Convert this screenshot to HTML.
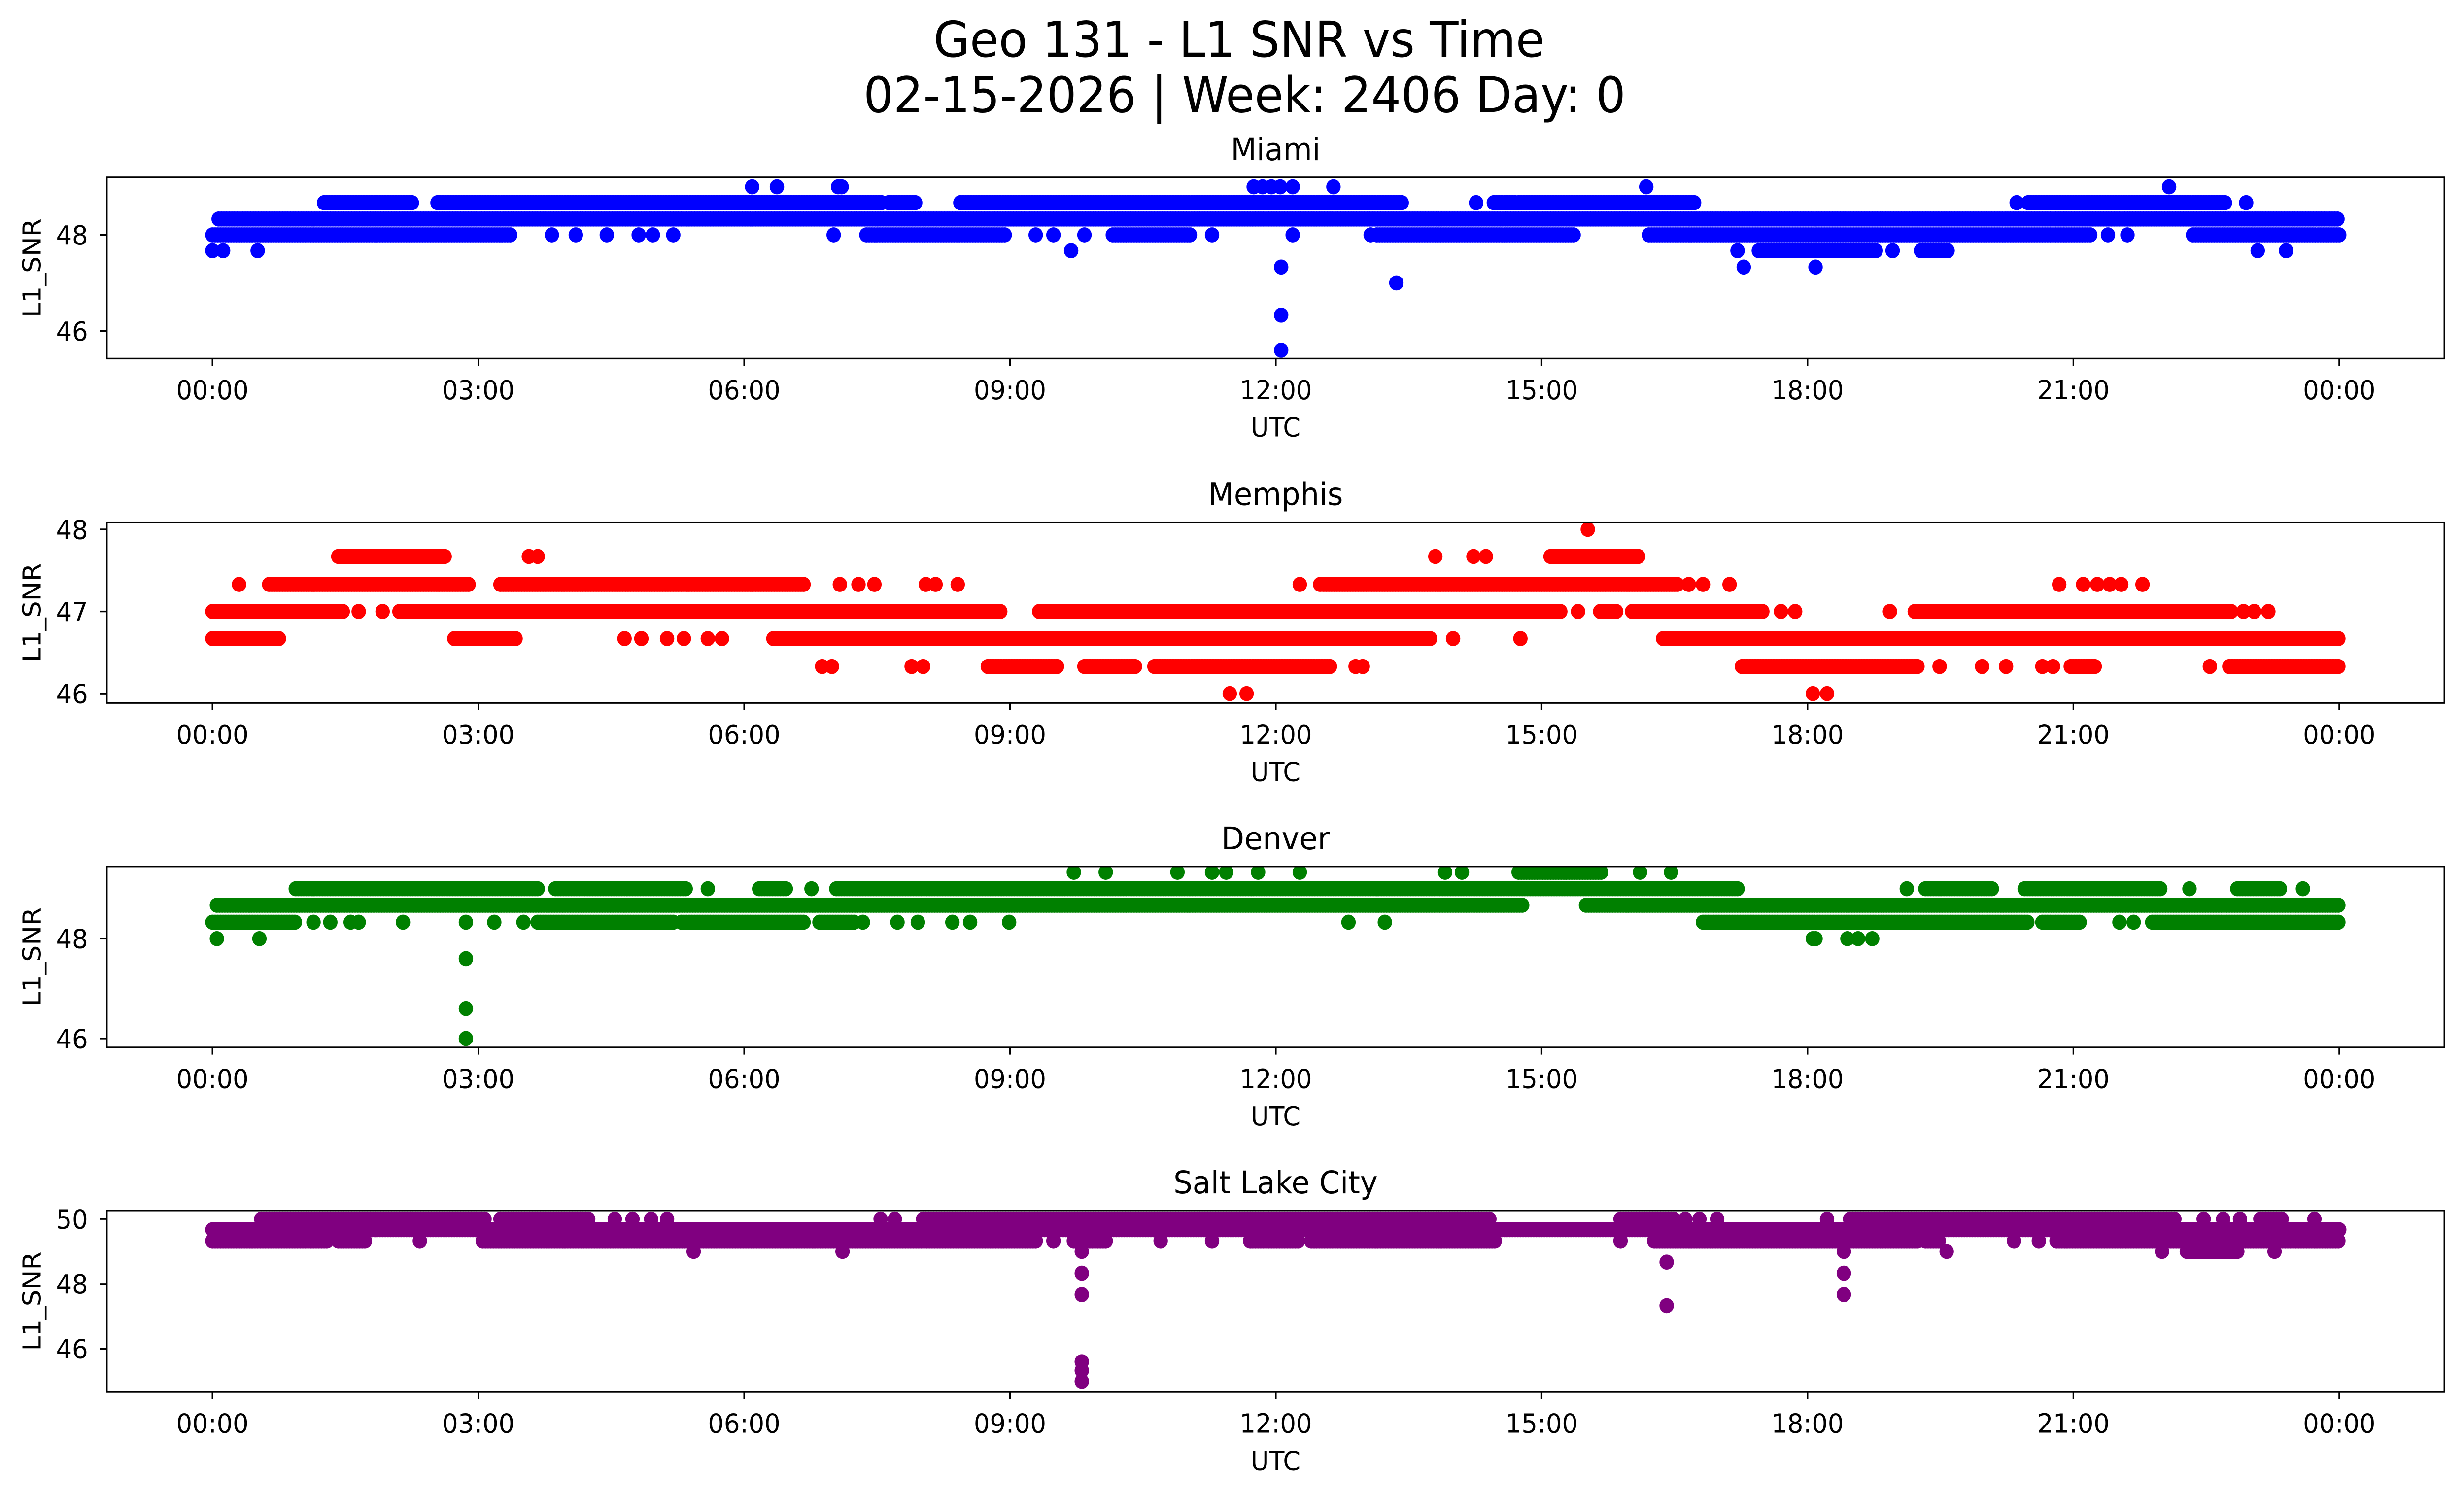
<!DOCTYPE html>
<html><head><meta charset="utf-8"><title>Geo 131 - L1 SNR vs Time</title>
<style>html,body{margin:0;padding:0;background:#fff;overflow:hidden;width:100%;height:100%;}svg{display:block;position:absolute;left:0;top:0;width:100vw;height:100vh;}text{font-family:"DejaVu Sans","Liberation Sans",sans-serif;fill:#000;}</style>
</head><body>
<svg id="fig" xmlns="http://www.w3.org/2000/svg" viewBox="0 0 1568 910.2" preserveAspectRatio="none">
<rect x="0" y="0" width="1568" height="910.2" fill="#fff"/>
<text x="788.5" y="34.5" font-size="30" text-anchor="middle" textLength="389" lengthAdjust="spacingAndGlyphs">Geo 131 - L1 SNR vs Time</text>
<text x="792" y="68.3" font-size="30" text-anchor="middle" textLength="485" lengthAdjust="spacingAndGlyphs">02-15-2026 | Week: 2406 Day: 0</text>
</svg>
<script>
// ---------- data (hours UTC, L1 SNR) ----------
const xTickLabels = ["00:00","03:00","06:00","09:00","12:00","15:00","18:00","21:00","00:00"];
const xTickHours = [0,3,6,9,12,15,18,21,24];

const miamiYTicks = [46,48];
const miamiBands = [[0.07,24,48.33],[1.26,2.27,48.67],[2.54,7.56,48.67],[7.63,7.93,48.67],[8.44,13.43,48.67],[14.46,14.71,48.67],[14.74,16.73,48.67],[20.49,22.72,48.67],
 [0,3.37,48],[7.38,8.96,48],[10.16,11.05,48],[13.14,15.38,48],[16.21,21.2,48],[22.35,24,48],
 [17.45,18.77,47.67],[19.28,19.6,47.67]];
const miamiPoints = [[3.83,48],[4.1,48],[4.45,48],[4.81,48],[4.97,48],[5.2,48],[7.01,48],[9.29,48],[9.49,48],[9.84,48],[11.28,48],[12.19,48],[13.07,48],[21.39,48],[21.61,48],
 [14.26,48.67],[20.36,48.67],[22.95,48.67],
 [6.09,49],[6.37,49],[7.06,49],[7.1,49],[11.75,49],[11.85,49],[11.95,49],[12.05,49],[12.19,49],[12.65,49],[16.18,49],[22.08,49],
 [0,47.67],[0.12,47.67],[0.51,47.67],[9.69,47.67],[17.21,47.67],[18.96,47.67],[23.08,47.67],[23.4,47.67],
 [12.06,47.33],[17.28,47.33],[18.09,47.33],[13.36,47],[12.06,46.33],[12.06,45.6]];

const memphisYTicks = [46,47,48];
const memphisBands = [[1.42,2.63,47.67],[15.1,16.11,47.67],
 [0.64,2.89,47.33],[3.25,6.69,47.33],[12.54,16.53,47.33],
 [0,1.49,47],[2.11,8.9,47],[9.33,15.22,47],[15.66,15.86,47],[16.02,17.49,47],[19.21,22.79,47],
 [0,0.75,46.67],[2.73,3.44,46.67],[6.33,13.75,46.67],[16.37,24,46.67],
 [8.75,9.53,46.33],[9.84,10.43,46.33],[10.63,12.63,46.33],[17.26,19.25,46.33],[20.97,21.25,46.33],[22.76,24,46.33]];
const memphisPoints = [[15.52,48],[3.57,47.67],[3.67,47.67],[13.8,47.67],[14.23,47.67],[14.37,47.67],
 [0.3,47.33],[7.08,47.33],[7.29,47.33],[7.47,47.33],[8.05,47.33],[8.16,47.33],[8.41,47.33],[12.27,47.33],[12.5,47.33],[16.66,47.33],[16.82,47.33],[17.12,47.33],
 [20.84,47.33],[21.11,47.33],[21.27,47.33],[21.41,47.33],[21.54,47.33],[21.78,47.33],
 [1.65,47],[1.92,47],[15.41,47],[17.7,47],[17.86,47],[18.93,47],[22.92,47],[23.04,47],[23.2,47],
 [4.65,46.67],[4.84,46.67],[5.13,46.67],[5.32,46.67],[5.59,46.67],[5.75,46.67],[14,46.67],[14.76,46.67],
 [6.88,46.33],[6.99,46.33],[7.89,46.33],[8.02,46.33],[12.9,46.33],[12.98,46.33],[19.49,46.33],[19.97,46.33],[20.24,46.33],[20.65,46.33],[20.77,46.33],[22.54,46.33],
 [11.48,46],[11.67,46],[18.06,46],[18.22,46]];

const denverYTicks = [46,48];
const denverBands = [[14.74,15.69,49.33],
 [0.94,3.67,49],[3.87,5.36,49],[6.17,6.49,49],[7.04,17.22,49],[19.33,20.08,49],[20.45,22,49],[22.85,23.33,49],
 [0.05,14.78,48.67],[15.5,24,48.67],
 [0,0.94,48.33],[3.67,5.2,48.33],[5.29,6.69,48.33],[6.85,7.24,48.33],[16.82,20.49,48.33],[20.65,21.09,48.33],[21.89,24,48.33]];
const denverPoints = [[9.72,49.33],[10.08,49.33],[10.89,49.33],[11.28,49.33],[11.44,49.33],[11.8,49.33],[12.27,49.33],[13.91,49.33],[14.1,49.33],[16.11,49.33],[16.46,49.33],
 [5.59,49],[6.76,49],[19.12,49],[22.31,49],[23.59,49],
 [1.14,48.33],[1.33,48.33],[1.56,48.33],[1.65,48.33],[2.15,48.33],[2.86,48.33],[3.18,48.33],[3.51,48.33],[7.34,48.33],[7.73,48.33],[7.96,48.33],[8.35,48.33],[8.55,48.33],[8.99,48.33],[12.82,48.33],[13.23,48.33],[21.52,48.33],[21.68,48.33],
 [0.05,48],[0.53,48],[18.06,48],[18.09,48],[18.45,48],[18.57,48],[18.73,48],
 [2.86,47.6],[2.86,46.6],[2.86,46]];

const slcYTicks = [46,48,50];
const slcBands = [[0.55,3.09,50],[3.25,4.26,50],[8.02,14.42,50],[15.89,16.5,50],[18.48,22.15,50],[23.11,23.36,50],
 [0,24,49.67],
 [0,1.29,49.33],[1.42,1.72,49.33],[3.05,9.29,49.33],[9.72,10.08,49.33],[11.71,12.27,49.33],[12.4,14.49,49.33],[16.27,19.25,49.33],[19.33,19.49,49.33],[20.81,24,49.33],
 [22.28,22.85,49]];
const slcPoints = [[4.54,50],[4.74,50],[4.95,50],[5.13,50],[7.54,50],[7.7,50],[16.62,50],[16.78,50],[16.98,50],[18.22,50],[22.47,50],[22.69,50],[22.88,50],[23.72,50],
 [2.34,49.33],[9.49,49.33],[10.7,49.33],[11.28,49.33],[15.89,49.33],[20.33,49.33],[20.61,49.33],
 [5.43,49],[7.11,49],[9.81,49],[18.41,49],[19.57,49],[22,49],[23.27,49],
 [16.41,48.67],[9.81,48.33],[18.41,48.33],[9.81,47.67],[18.41,47.67],[16.41,47.33],
 [9.81,45.6],[9.81,45.33],[9.81,45]];

// ---------- layout ----------
const NS = "http://www.w3.org/2000/svg";
const svg = document.getElementById('fig');
const AX_L = 68, AX_R = 1555.5, X0 = 135.2, X24 = 1488.6;
function xScale(h){ return X0 + (X24 - X0) * h / 24; }

const panels = [
 {name:"miami", title:"Miami", color:"#0000ff", top:108, bottom:218.3, yA:48, pA:143, yB:46, pB:201.5, ticks:miamiYTicks, bands:miamiBands, points:miamiPoints},
 {name:"memphis", title:"Memphis", color:"#ff0000", top:318, bottom:428, yA:48, pA:322.3, yB:46, pB:422.3, ticks:memphisYTicks, bands:memphisBands, points:memphisPoints},
 {name:"denver", title:"Denver", color:"#008000", top:527.5, bottom:637.7, yA:48, pA:571.5, yB:46, pB:632.3, ticks:denverYTicks, bands:denverBands, points:denverPoints},
 {name:"salt-lake-city", title:"Salt Lake City", color:"#800080", top:737, bottom:847.5, yA:50, pA:742.2, yB:46, pB:821.2, ticks:slcYTicks, bands:slcBands, points:slcPoints}
];

function mk(tag, attrs){ const e = document.createElementNS(NS, tag); for (const k in attrs) e.setAttribute(k, attrs[k]); return e; }

panels.forEach(p => {
  const yScale = v => p.pA + (v - p.yA) * (p.pB - p.pA) / (p.yB - p.yA);
  const g = mk('g', {});
  
  
  svg.appendChild(g);

  const cp = mk('clipPath', {id: 'clip-' + p.name});
  cp.appendChild(mk('rect', {x: AX_L, y: p.top, width: AX_R - AX_L, height: p.bottom - p.top}));
  g.appendChild(cp);

  const pts = mk('g', {fill: p.color, 'clip-path': 'url(#clip-' + p.name + ')'});
  
  
  g.appendChild(pts);
  const R = 4.6;
  p.bands.forEach(b => {
    for (let h = b[0]; h <= b[1] + 1e-9; h += 0.03) {
      const c = mk('circle', {cx: xScale(h).toFixed(2), cy: yScale(b[2]).toFixed(2), r: R});
      
      
      pts.appendChild(c);
    }
  });
  p.points.forEach(q => {
    const c = mk('circle', {cx: xScale(q[0]).toFixed(2), cy: yScale(q[1]).toFixed(2), r: R});
    
    
    pts.appendChild(c);
  });

  const fr = mk('rect', {x: AX_L, y: p.top, width: AX_R - AX_L, height: p.bottom - p.top, fill: 'none', stroke: '#000', 'stroke-width': 1});
  
  
  g.appendChild(fr);

  xTickHours.forEach((h, i) => {
    const x = xScale(h);
    const t = mk('line', {x1: x, x2: x, y1: p.bottom, y2: p.bottom + 4.4, stroke: '#000', 'stroke-width': 1});
    
    
    g.appendChild(t);
    const lb = mk('text', {x: x, y: p.bottom + 24.8, 'font-size': 16, 'text-anchor': 'middle'});
    lb.textContent = xTickLabels[i];
    
    
    g.appendChild(lb);
  });
  p.ticks.forEach(v => {
    const y = yScale(v);
    const t = mk('line', {x1: AX_L - 4.4, x2: AX_L, y1: y, y2: y, stroke: '#000', 'stroke-width': 1});
    
    
    g.appendChild(t);
    const lb = mk('text', {x: 56, y: y + 5.8, 'font-size': 16, 'text-anchor': 'end'});
    lb.textContent = String(v);
    
    
    g.appendChild(lb);
  });
  const xl = mk('text', {x: (AX_L + AX_R) / 2, y: p.bottom + 47.5, 'font-size': 16, 'text-anchor': 'middle'});
  xl.textContent = 'UTC';
  
  
  g.appendChild(xl);
  const cy = (p.top + p.bottom) / 2;
  const yl = mk('text', {x: 0, y: 0, 'font-size': 16, 'text-anchor': 'middle', transform: 'translate(25.8,' + cy + ') rotate(-90)'});
  yl.textContent = 'L1_SNR';
  
  
  g.appendChild(yl);
  const tt = mk('text', {x: (AX_L + AX_R) / 2, y: p.top - 10.5, 'font-size': 19, 'text-anchor': 'middle'});
  tt.textContent = p.title;
  
  
  g.appendChild(tt);
});
</script>
</body></html>
